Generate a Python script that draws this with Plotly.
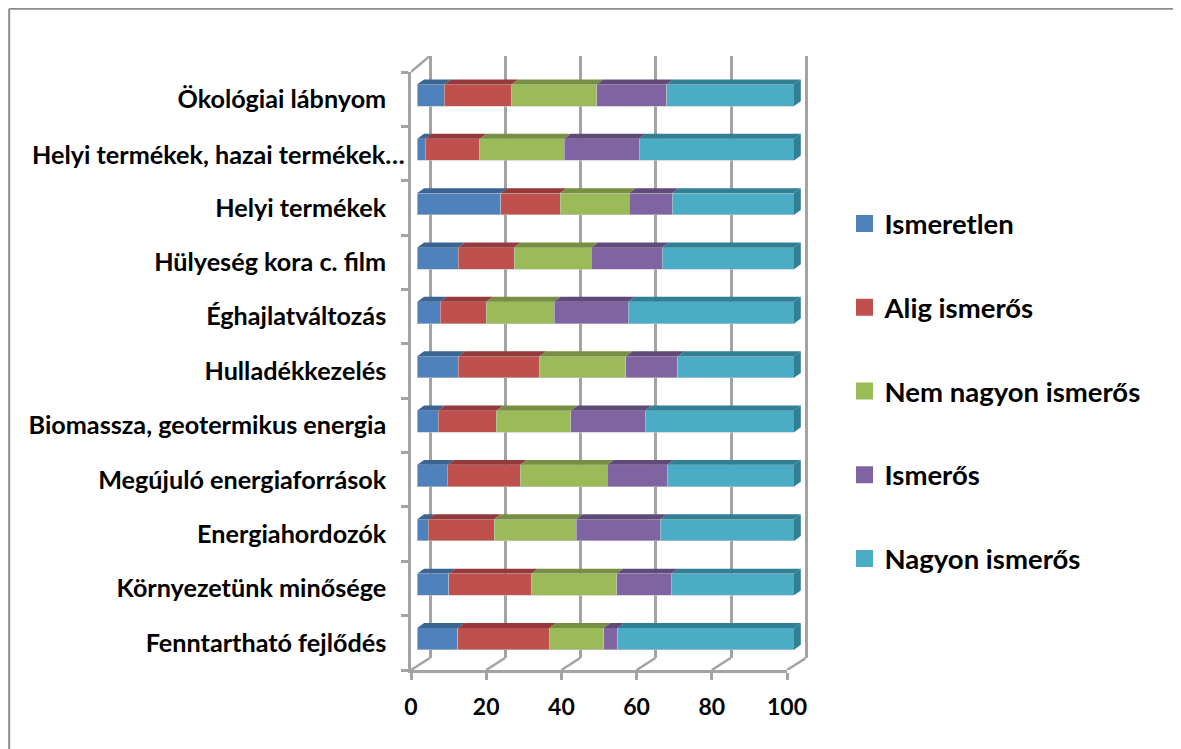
import plotly.graph_objects as go

categories = [
    "Fenntartható fejlődés",
    "Környezetünk minősége",
    "Energiahordozók",
    "Megújuló energiaforrások",
    "Biomassza, geotermikus energia",
    "Hulladékkezelés",
    "Éghajlatváltozás",
    "Hülyeség kora c. film",
    "Helyi termékek",
    "Helyi termékek, hazai termékek…",
    "Ökológiai lábnyom",
]
ismeretlen = [10.8, 8.3, 2.9, 8.0, 5.6, 10.9, 6.1, 10.9, 22.2, 2.1, 7.2]
alig = [24.3, 22.0, 17.5, 19.3, 15.4, 21.5, 12.2, 14.8, 15.7, 14.5, 17.9]
nem_nagyon = [14.4, 22.6, 21.8, 23.1, 19.8, 23.0, 18.0, 20.5, 18.3, 22.4, 22.5]
ismeros = [3.7, 14.5, 22.3, 15.9, 19.7, 13.8, 19.7, 18.8, 11.5, 19.9, 18.6]
nagyon = [46.8, 32.6, 35.5, 33.7, 39.5, 30.8, 44.0, 35.0, 32.3, 41.1, 33.8]
x_ticks = [0, 20, 40, 60, 80, 100]

series = [
    ("Ismeretlen", ismeretlen, "#4f81bd", "#3a6593"),
    ("Alig ismerős", alig, "#c0504d", "#95393a"),
    ("Nem nagyon ismerős", nem_nagyon, "#9bbb59", "#768f42"),
    ("Ismerős", ismeros, "#8064a2", "#5f4a7a"),
    ("Nagyon ismerős", nagyon, "#4bacc6", "#2f7f95"),
]

# the page body has an 8px margin, so the figure starts at (8, 8)
PAGE = 8
W, H = 1181, 749
FONT = "Lato"
GREY = "#a3a3a3"
# depth of the fake 3d box and of the bars, in axis units
BOX_DX, BOX_DY, BOX_TOP_DY = 5.0, 0.22, 0.29
BAR_DX, BAR_DY = 1.8, 0.09
BAR_GAP = 0.6
SCALE = 3.767  # px per axis unit

def px_x(a):
    return (a - PAGE) / W

def px_y(a):
    return 1 - (a - PAGE) / H

def dom_x(a, b):
    return [px_x(a), px_x(b)]

def dom_y(top, bottom):
    return [px_y(bottom), px_y(top)]

y_pos = list(range(len(categories)))
y_range = [-0.5, len(categories) - 0.5]
fig = go.Figure()

# a trace is needed for the back wall axes to show their grid
fig.add_trace(go.Scatter(x=[], y=[], xaxis="x", yaxis="y", showlegend=False, hoverinfo="skip"))
fig.add_trace(go.Scatter(x=[], y=[], xaxis="x2", yaxis="y2", showlegend=False, hoverinfo="skip"))

# front faces
for name, values, color, dark in series:
    fig.add_trace(go.Bar(
        y=y_pos, x=values, name=name, orientation="h",
        xaxis="x3", yaxis="y3", showlegend=False,
        marker=dict(color=color, line=dict(color="#c4c4c4", width=0.6)),
    ))

# legend only traces, the thick outline gives the bigger swatch
for name, values, color, dark in series:
    fig.add_trace(go.Bar(
        y=[None], x=[None], name=name, orientation="h",
        xaxis="x3", yaxis="y3", legendgroup=name,
        marker=dict(color=color, line=dict(color=color, width=5)),
    ))

# top faces and the right end of the bars
half = (1 - BAR_GAP) / 2
left = [0.0] * len(categories)
for name, values, color, dark in series:
    xs, ys = [], []
    for i, v in enumerate(values):
        x0, x1 = left[i], left[i] + v
        top = y_pos[i] + half
        xs += [x0, x1, x1 + BAR_DX, x0 + BAR_DX, x0, None]
        ys += [top, top, top + BAR_DY, top + BAR_DY, top, None]
        left[i] = x1
    fig.add_trace(go.Scatter(x=xs, y=ys, mode="lines", fill="toself", fillcolor=dark,
                             line=dict(width=0), xaxis="x3", yaxis="y3", cliponaxis=False,
                             showlegend=False, hoverinfo="skip"))

side_x, side_y = [], []
for i in y_pos:
    x1 = left[i]
    side_x += [x1, x1 + BAR_DX, x1 + BAR_DX, x1, x1, None]
    side_y += [y_pos[i] + half, y_pos[i] + half + BAR_DY, y_pos[i] - half + BAR_DY,
               y_pos[i] - half, y_pos[i] + half, None]
fig.add_trace(go.Scatter(x=side_x, y=side_y, mode="lines", fill="toself", fillcolor=series[-1][3],
                         line=dict(width=0), xaxis="x3", yaxis="y3", cliponaxis=False,
                         showlegend=False, hoverinfo="skip"))

# box edges running from the front plane to the back wall, on their own roomier axes
edge_x, edge_y = [], []
for t in x_ticks:
    edge_x += [t, t + BOX_DX, None]
    edge_y += [y_range[0], y_range[0] + BOX_DY, None]
edge_x += [0, BOX_DX]
edge_y += [y_range[1], y_range[1] + BOX_TOP_DY]
fig.add_trace(go.Scatter(x=edge_x, y=edge_y, mode="lines", cliponaxis=False,
                         xaxis="x4", yaxis="y4",
                         line=dict(color=GREY, width=2.5), showlegend=False,
                         hoverinfo="skip"))

# long label sticks out past the others in the original
tick_text = [c if not c.endswith("…") else "" for c in categories]
long_idx = tick_text.index("")

fig.add_annotation(x=px_x(407), xref="paper", y=y_pos[long_idx], yref="y2", xanchor="right",
                   text=categories[long_idx], showarrow=False,
                   font=dict(family=FONT, size=25.2, color="#000000", weight="bold"))

fig.update_layout(
    width=W, height=H, autosize=False,
    margin=dict(l=0, r=0, t=0, b=0),
    paper_bgcolor="white", plot_bgcolor="rgba(0,0,0,0)",
    barmode="stack", bargap=BAR_GAP,
    font=dict(family=FONT, size=25.2, color="#000000", weight="bold"),
    # back wall carries the gridlines, range padded so 0 and 100 keep theirs
    xaxis=dict(domain=dom_x(430 - SCALE, 806.5 + SCALE), range=[-1, 101], anchor="y",
               tickvals=x_ticks, showticklabels=False, showgrid=True, gridcolor=GREY, gridwidth=2.5,
               zeroline=False, ticks="", automargin=False),
    yaxis=dict(domain=dom_y(56, 658), range=[0, 1], visible=False, anchor="x", automargin=False),
    # front plane carries the ticks and labels
    xaxis2=dict(domain=dom_x(411, 787), range=[0, 100], tickvals=x_ticks, showgrid=False,
                zeroline=False, showline=True, linecolor=GREY, linewidth=2.5,
                ticks="outside", ticklen=7, tickwidth=2.5, tickcolor=GREY,
                tickfont=dict(family=FONT, size=23, color="#000000", weight="bold"),
                ticklabelstandoff=8, anchor="y2", automargin=False),
    yaxis2=dict(domain=dom_y(72, 670), range=y_range, tickvals=y_pos, ticktext=tick_text,
                showgrid=False, zeroline=False, showline=True, linecolor=GREY, linewidth=2.5,
                ticks="", ticklabelstandoff=17, anchor="x2", automargin=False,
                minor=dict(tickvals=[p - 0.5 for p in y_pos] + [y_range[1]], ticks="outside",
                           ticklen=7, tickwidth=2.5, tickcolor=GREY)),
    # bars sit a little inside the box, range padded for the end caps
    xaxis3=dict(domain=dom_x(417.3, 794 + 2 * SCALE), range=[0, 102], visible=False, anchor="y3",
                automargin=False),
    yaxis3=dict(domain=dom_y(68, 666), range=y_range, visible=False, anchor="x3", automargin=False),
    xaxis4=dict(domain=dom_x(411, 411 + 105 * 3.76), range=[0, 105], visible=False, anchor="y4",
                automargin=False),
    yaxis4=dict(domain=dom_y(56, 670), range=[y_range[0], y_range[1] + BOX_TOP_DY], visible=False,
                anchor="x4", automargin=False),
    legend=dict(x=px_x(844.5), y=px_y(199), xanchor="left", yanchor="top",
                traceorder="grouped", tracegroupgap=45, itemwidth=30,
                font=dict(family=FONT, size=27.5, color="#000000", weight="bold"),
                bgcolor="rgba(0,0,0,0)"),
    shapes=[
        dict(type="line", xref="paper", yref="paper", x0=0.001, x1=1, y0=0.999, y1=0.999,
             line=dict(color="#8c8c8c", width=2)),
        dict(type="line", xref="paper", yref="paper", x0=0.001, x1=0.001, y0=0, y1=0.999,
             line=dict(color="#8c8c8c", width=2)),
    ],
)

fig.write_html("out.html")
